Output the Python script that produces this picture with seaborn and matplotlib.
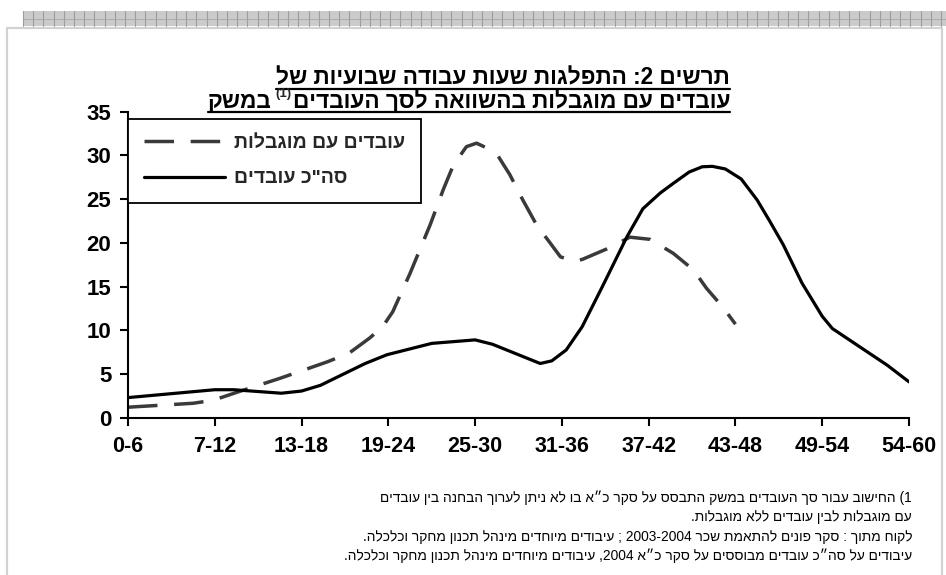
import re
import matplotlib
matplotlib.use("Agg")
import matplotlib.pyplot as plt
import seaborn as sns
from matplotlib.lines import Line2D
from matplotlib.patches import Rectangle

# ---------------- data ----------------
hour_labels = ["0-6", "7-12", "13-18", "19-24", "25-30", "31-36",
               "37-42", "43-48", "49-54", "54-60"]

total_hours = [0, 6, 7.3, 10.6, 12.0, 13.3, 16.4, 17.9, 21.0, 24.0, 25.2,
               27.0, 28.5, 29.3, 30.3, 31.4, 32.8, 34.5, 35.6, 36.8, 37.7,
               38.8, 39.7, 40.4, 41.3, 42.4, 43.5, 44.4, 45.3, 46.6, 48.0,
               48.7, 50.6, 52.5, 54.0]
total_pct = [2.3, 3.2, 3.2, 2.8, 3.05, 3.7, 6.2, 7.2, 8.5, 8.9, 8.4,
             7.2, 6.2, 6.5, 7.75, 10.4, 15.0, 20.7, 23.9, 25.7, 26.8,
             28.1, 28.7, 28.75, 28.45, 27.3, 24.9, 22.4, 19.8, 15.4, 11.6,
             10.2, 8.1, 6.0, 4.1]

disabled_hours = [0, 4.5, 5.9, 7.7, 10.5, 13.8, 15.3, 16.7, 17.6, 18.3,
                  19.5, 20.9, 21.8, 22.5, 23.4, 24.1, 25.0, 25.6, 26.4,
                  27.3, 28.3, 29.0, 29.9, 30.8, 31.4, 33.1, 34.7, 36.1,
                  37.7, 39.1, 40.0, 41.1, 42.0]
disabled_pct = [1.2, 1.65, 2.0, 3.0, 4.5, 6.4, 7.4, 9.1, 10.4, 12.1,
                16.5, 22.1, 26.1, 28.9, 31.0, 31.4, 30.7, 29.9, 27.8,
                24.9, 21.9, 20.4, 18.4, 17.9, 18.1, 19.3, 20.65, 20.4,
                18.8, 16.9, 14.8, 12.7, 10.7]

label_disabled = "עובדים עם מוגבלות"
label_total = 'סה"כ עובדים'

title_line1 = "תרשים 2: התפלגות שעות עבודה שבועיות של"
title_line2a = "עובדים עם מוגבלות בהשוואה לסך העובדים"
title_sup = "(1)"
title_line2b = "במשק"

footnotes = [
    "1) החישוב עבור סך העובדים במשק התבסס על סקר כ״א בו לא ניתן לערוך הבחנה בין עובדים",
    "עם מוגבלות לבין עובדים ללא מוגבלות.",
    "לקוח מתוך : סקר פונים להתאמת שכר 2003-2004 ; עיבודים מיוחדים מינהל תכנון מחקר וכלכלה.",
    "עיבודים על סה״כ עובדים מבוססים על סקר כ״א 2004, עיבודים מיוחדים מינהל תכנון מחקר וכלכלה.",
]


def rtl(s):
    """Convert logical RTL text to visual order for LTR rendering."""
    tokens = re.findall(r"\d+(?:[-.,/]\d+)*|.", s)
    mirror = {"(": ")", ")": "(", "[": "]", "]": "["}
    return "".join(mirror.get(t, t) for t in reversed(tokens))


# ---------------- style ----------------
sns.set_style("white")
heb_bold = ["Liberation Sans", "DejaVu Sans"]
heb_reg = ["Liberation Sans", "DejaVu Sans"]
plt.rcParams["font.family"] = heb_bold

W, H = 946, 575
fig = plt.figure(figsize=(W / 100, H / 100), dpi=100)
fig.patch.set_facecolor("white")


def fx(px):
    return px / W


def fy(py):
    return 1 - py / H


# decorative frame
band = Rectangle((fx(23), fy(26)), fx(946) - fx(23), fy(11) - fy(26),
                 transform=fig.transFigure, facecolor="#cbcbcb",
                 edgecolor="none", zorder=0)
fig.add_artist(band)
xx = 23
while xx < 946:
    fig.add_artist(Line2D([fx(xx), fx(xx)], [fy(26), fy(11)],
                          transform=fig.transFigure, color="#9c9c9c", lw=0.8))
    xx += 10.2
fig.add_artist(Line2D([fx(23), fx(946)], [fy(18.5), fy(18.5)],
                      transform=fig.transFigure, color="#a8a8a8", lw=0.6))
for xs, ys in [([7, 942], [27.5, 27.5]), ([7, 7], [27.5, 575]),
               ([942, 942], [27.5, 575])]:
    fig.add_artist(Line2D([fx(v) for v in xs], [fy(v) for v in ys],
                          transform=fig.transFigure, color="#d2d2d2", lw=1.6))

# ---------------- axes ----------------
ax = fig.add_axes([fx(128), fy(417.7), fx(909) - fx(128), fy(111.7) - fy(417.7)])
ax.set_facecolor("none")

sns.lineplot(x=disabled_hours, y=disabled_pct, ax=ax, color="#3a3a3a",
             linewidth=2.5, linestyle=(0, (8.5, 4.8)), sort=False,
             estimator=None, label=rtl(label_disabled))
sns.lineplot(x=total_hours, y=total_pct, ax=ax, color="black",
             linewidth=2.3, sort=False, estimator=None,
             label=rtl(label_total))

ax.set_xlim(0, 54)
ax.set_ylim(0, 35)
ax.set_xticks([6 * i for i in range(len(hour_labels))])
ax.set_xticklabels(hour_labels)
ax.set_yticks(range(0, 36, 5))
ax.set_xlabel("")
ax.set_ylabel("")
for side in ["top", "right"]:
    ax.spines[side].set_visible(False)
for side in ["left", "bottom"]:
    ax.spines[side].set_color("black")
    ax.spines[side].set_linewidth(1.5)
ax.tick_params(axis="both", direction="out", length=6, width=1.5,
               color="black", labelcolor="black")
ax.tick_params(axis="x", pad=7, labelsize=15.5)
ax.tick_params(axis="y", pad=6, labelsize=16)
ax.tick_params(left=True, bottom=True)
for lab in ax.get_xticklabels() + ax.get_yticklabels():
    lab.set_fontweight("bold")
    lab.set_family(heb_bold)

leg = ax.legend(loc="upper left", bbox_to_anchor=(0, 0.976),
                borderaxespad=0, frameon=True, fancybox=False,
                framealpha=1, edgecolor="black",
                handlelength=4.2, handletextpad=0.45, borderpad=0.8,
                labelspacing=0.9,
                prop={"weight": "bold", "size": 14, "family": heb_bold})
leg.get_frame().set_linewidth(1.3)

# ---------------- title ----------------
tkw = dict(fontsize=16.3, fontweight="bold", family=heb_bold, color="black")
t1 = fig.text(fx(730), fy(84.5), rtl(title_line1), ha="right", va="baseline", **tkw)
t2a = fig.text(fx(730), fy(108), rtl(title_line2a), ha="right", va="baseline", **tkw)
fig.canvas.draw()
r = fig.canvas.get_renderer()
b2a = t2a.get_window_extent(r)
sup = fig.text(b2a.x0 / W - fx(1), fy(97.5), rtl(title_sup), ha="right",
               va="baseline", fontsize=9.5, fontweight="bold", family=heb_bold)
fig.canvas.draw()
bs = sup.get_window_extent(r)
t2b = fig.text(bs.x0 / W - fx(4), fy(108), rtl(title_line2b), ha="right",
               va="baseline", **tkw)
fig.canvas.draw()
b1 = t1.get_window_extent(r)
b2b = t2b.get_window_extent(r)
for bx0, bx1, uy in [(b1.x0, b1.x1, 88.5), (b2b.x0, b2a.x1, 111.5)]:
    fig.add_artist(Line2D([bx0 / W, bx1 / W], [fy(uy), fy(uy)],
                          transform=fig.transFigure, color="black", lw=1.6))

# ---------------- footnotes ----------------
for i, line in enumerate(footnotes):
    fig.text(fx(912), fy(498 + 19.3 * i), rtl(line), ha="right", va="center",
             fontsize=9.9, family=heb_reg, color="black")

fig.savefig("out.png", dpi=100, facecolor="white")
